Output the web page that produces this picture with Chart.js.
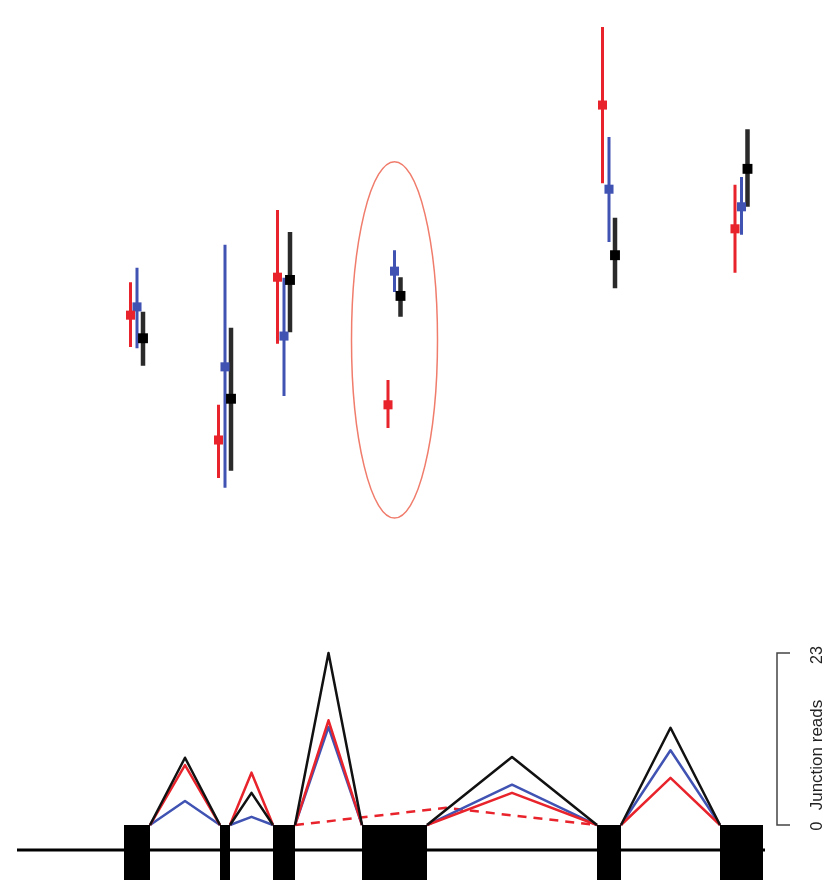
<html>
<head>
<meta charset="utf-8">
<style>
  body { margin: 0; background: #fff; }
  canvas { display: block; }
</style>
</head>
<body>
<canvas id="exonChart" width="830" height="880"></canvas>

<script src="https://cdn.jsdelivr.net/npm/chart.js@4.4.0/dist/chart.umd.min.js"></script>
<script>
// exon boundaries along the gene (kb)
const exonStart = [1.24, 2.20, 2.73, 3.62, 5.97, 7.20];
const exonEnd   = [1.50, 2.30, 2.95, 4.27, 6.21, 7.63];
const geneSpan  = [0.17, 7.65];

// inclusion per exon for the three samples: value and interval
const psiRed     = [42.7, 20.0, 49.6, 26.4, 80.9, 58.4];
const psiRedLo   = [36.9, 13.1, 37.5, 22.2, 66.7, 50.4];
const psiRedHi   = [48.7, 26.4, 61.8, 30.9, 95.1, 66.4];
const psiBlue    = [44.2, 33.3, 38.9, 50.7, 65.6, 62.4];
const psiBlueLo  = [36.7, 11.3, 28.0, 46.9, 56.0, 57.3];
const psiBlueHi  = [51.3, 55.5, 49.5, 54.5, 75.1, 67.8];
const psiBlack   = [38.5, 27.5, 49.1, 46.2, 53.6, 69.3];
const psiBlackLo = [33.5, 14.4, 39.6, 42.4, 47.6, 62.4];
const psiBlackHi = [43.3, 40.4, 57.8, 49.6, 60.4, 76.5];

// junction reads between neighbouring exons
const readsRed   = [8.0, 7.0, 14.0, 4.3, 6.3];
const readsBlue  = [3.2, 1.1, 13.1, 5.4, 10.0];
const readsBlack = [9.0, 4.3, 23.0, 9.1, 13.0];
// red sample: exon 3 spliced straight to exon 5
const skipFrom = 2, skipTo = 4, skipReads = 2.3;
const readsMax = 23;

// circled exon
const marked = { exon: 3, psi: 38.2, halfPsi: 32.4, halfKb: 0.43 };

const RED = '#e8232b', BLUE = '#4053b3', BLACK = '#111111';
const geneY = -3.35;   // height of the intron line under the junctions

function mid(i) { return (exonStart[i] + exonEnd[i]) / 2; }

function errorBars(lo, hi, dx) {
  let pts = [];
  for (let i = 0; i < lo.length; i++) {
    let x = mid(i) + dx;
    pts.push({x: x, y: lo[i]}, {x: x, y: hi[i]}, {x: x, y: null});
  }
  return pts;
}

function centres(v, dx) {
  return v.map(function (val, i) { return {x: mid(i) + dx, y: val}; });
}

function arcs(reads) {
  let pts = [];
  for (let i = 0; i < reads.length; i++) {
    let a = exonEnd[i], b = exonStart[i + 1];
    pts.push({x: a, y: 0}, {x: (a + b) / 2, y: reads[i]}, {x: b, y: 0}, {x: b, y: null});
  }
  return pts;
}

function exonBlocks() {
  let pts = [];
  for (let i = 0; i < exonStart.length; i++) {
    pts.push({x: exonStart[i], y: 0}, {x: exonEnd[i], y: 0}, {x: exonEnd[i], y: null});
  }
  return pts;
}

function barSet(data, color, width) {
  return { type: 'line', data: data, yAxisID: 'y', borderColor: color, borderWidth: width,
           pointRadius: 0, spanGaps: false, borderCapStyle: 'butt', order: 3 };
}
function pointSet(data, color, r) {
  return { type: 'scatter', data: data, yAxisID: 'y', backgroundColor: color, borderWidth: 0,
           pointStyle: 'rect', pointRadius: r, order: 1 };
}
function arcSet(data, color, order) {
  return { type: 'line', data: data, yAxisID: 'reads', borderColor: color, borderWidth: 2.5,
           pointRadius: 0, spanGaps: false, borderJoinStyle: 'round', order: order };
}

let skip = exonEnd[skipFrom], skipEnd = exonStart[skipTo];

// ellipse round the marked exon
const markPlugin = {
  id: 'markPlugin',
  beforeDatasetsDraw(chart) {
    const xs = chart.scales.x, ys = chart.scales.y, ctx = chart.ctx;
    const cx = xs.getPixelForValue(mid(marked.exon));
    const cy = ys.getPixelForValue(marked.psi);
    const rx = xs.getPixelForValue(mid(marked.exon) + marked.halfKb) - cx;
    const ry = cy - ys.getPixelForValue(marked.psi + marked.halfPsi);
    ctx.save();
    ctx.strokeStyle = '#f07c6c';
    ctx.lineWidth = 1.5;
    ctx.beginPath();
    ctx.ellipse(cx, cy, rx, ry, 0, 0, Math.PI * 2);
    ctx.stroke();
    ctx.restore();
  }
};

// bracket axis for the junction reads
const readsBracket = {
  id: 'readsBracket',
  afterDraw(chart) {
    const s = chart.scales.reads, ctx = chart.ctx;
    const y0 = s.getPixelForValue(0), y1 = s.getPixelForValue(readsMax);
    const x = chart.chartArea.right - 53;
    ctx.save();
    ctx.strokeStyle = '#444';
    ctx.lineWidth = 1.5;
    ctx.beginPath();
    ctx.moveTo(x + 13, y1); ctx.lineTo(x, y1); ctx.lineTo(x, y0); ctx.lineTo(x + 13, y0);
    ctx.stroke();
    ctx.fillStyle = '#222';
    ctx.textAlign = 'center';
    ctx.textBaseline = 'alphabetic';
    function label(txt, y, size) {
      ctx.save();
      ctx.translate(x + 45, y);
      ctx.rotate(-Math.PI / 2);
      ctx.font = size + 'px "Liberation Sans", Arial, sans-serif';
      ctx.fillText(txt, 0, 0);
      ctx.restore();
    }
    label('0', y0 + 1, 16);
    label(String(readsMax), y1 + 2, 16);
    label('Junction reads', y0 - 70, 17);
    ctx.restore();
  }
};

new Chart(document.getElementById('exonChart'), {
  type: 'scatter',
  data: {
    datasets: [
      pointSet(centres(psiRed, -0.065), RED, 6.4),
      pointSet(centres(psiBlue, 0), BLUE, 6.4),
      pointSet(centres(psiBlack, 0.06), '#000', 7),
      barSet(errorBars(psiRedLo, psiRedHi, -0.065), RED, 3),
      barSet(errorBars(psiBlueLo, psiBlueHi, 0), BLUE, 3),
      barSet(errorBars(psiBlackLo, psiBlackHi, 0.06), '#2a2a2a', 4.5),
      arcSet(arcs(readsBlack), BLACK, 5),
      arcSet(arcs(readsRed), RED, 6),
      arcSet(arcs(readsBlue), BLUE, 7),
      { type: 'line', yAxisID: 'reads', borderColor: RED, borderWidth: 2.5, borderDash: [9, 7],
        pointRadius: 0, order: 8,
        data: [{x: skip, y: 0}, {x: (skip + skipEnd) / 2, y: skipReads}, {x: skipEnd, y: 0}] },
      { type: 'line', yAxisID: 'reads', data: exonBlocks(), borderWidth: 0, borderColor: '#000',
        backgroundColor: '#000', fill: 'start', pointRadius: 0, spanGaps: false, order: 9 },
      { type: 'line', yAxisID: 'reads', borderColor: '#000', borderWidth: 3, pointRadius: 0, order: 10,
        data: [{x: geneSpan[0], y: geneY}, {x: geneSpan[1], y: geneY}] }
    ]
  },
  options: {
    responsive: false,
    animation: false,
    layout: { padding: 0, autoPadding: false },
    plugins: { legend: { display: false }, tooltip: { enabled: false } },
    scales: {
      x: { type: 'linear', min: 0, max: 8.3, display: false },
      y: { type: 'linear', min: -60, max: 100, display: false },
      reads: { type: 'linear', position: 'right', min: -7.35, max: 110.3, display: false }
    }
  },
  plugins: [markPlugin, readsBracket]
});
</script>
</body>
</html>
